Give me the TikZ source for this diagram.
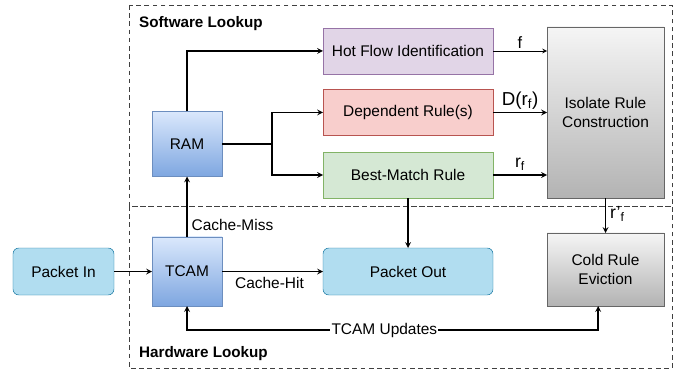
\documentclass[tikz,border=0pt]{standalone}
\usepackage{fontspec}
\setmainfont{Liberation Sans}
\usetikzlibrary{arrows,shapes}
\usetikzlibrary{calc}
\definecolor{memtop}{HTML}{DAE8FC}
\definecolor{membot}{HTML}{7EA6E0}
\definecolor{memline}{HTML}{6C8EBF}
\definecolor{pktfill}{HTML}{B1DDF0}
\definecolor{pktline}{HTML}{10739E}
\definecolor{hotfill}{HTML}{E1D5E7}
\definecolor{hotline}{HTML}{9673A6}
\definecolor{depfill}{HTML}{F8CECC}
\definecolor{depline}{HTML}{B85450}
\definecolor{bmfill}{HTML}{D5E8D4}
\definecolor{bmline}{HTML}{82B366}
\definecolor{ctrltop}{HTML}{F5F5F5}
\definecolor{ctrlbot}{HTML}{B3B3B3}
\definecolor{ctrlline}{HTML}{666666}
\tikzstyle{block}=[draw,rectangle,inner sep=0pt,outer sep=0pt,align=center,font=\fontsize{13.2}{15.5}\selectfont]
\tikzstyle{memory}=[block,draw=memline,top color=memtop,bottom color=membot,minimum width=2.1cm,minimum height=1.95cm]
\tikzstyle{packet}=[block,rounded corners=5pt,fill=pktfill,draw=pktline,minimum height=1.41cm]
\tikzstyle{stage}=[block,minimum width=5.1cm,minimum height=1.38cm]
\tikzstyle{control}=[block,draw=ctrlline,top color=ctrltop,bottom color=ctrlbot,minimum width=3.51cm]
\tikzstyle{edge} = [draw,line width=1.2pt,->]
\tikzstyle{region} = [draw=black!75,dash pattern=on 4pt off 3pt,line width=0.6pt]
\tikzstyle{weight} = [font=\fontsize{13.2}{15.5}\selectfont]
\tikzstyle{title} = [font=\fontsize{13}{15}\selectfont\bfseries,anchor=west]

\begin{document}
\begin{tikzpicture}[x=0.03cm,y=-0.03cm,>=stealth]
    \useasboundingbox (0,0) rectangle (681,372);
    % software and hardware regions
    \path[region] (129,5) rectangle (672,206);
    \path[region] (129,206) rectangle (672,368);
    \node[title] (sw) at (135,24) {Software Lookup};
    \node[title] (hw) at (135,354) {Hardware Lookup};

    % memories
    \node[memory] (RAM) at (187,144) {RAM};
    \node[memory,minimum height=2.07cm] (TCAM) at (187,271.5) {TCAM};

    % packet in/out
    \node[packet,minimum width=3.03cm] (in) at (63.5,271.5) {Packet In};
    \node[packet,minimum width=5.1cm] (out) at (408,271.5) {Packet Out};

    % software stages
    \foreach \pos/\name/\fillc/\linec/\txt in {{(408,51)/hot/hotfill/hotline/Hot Flow Identification},
        {(408,112.5)/dep/depfill/depline/Dependent Rule(s)},
        {(408,175)/bm/bmfill/bmline/Best-Match Rule}}
        \node[stage,fill=\fillc,draw=\linec] (\name) at \pos {\txt};

    % rule construction and eviction
    \node[control,minimum height=5.13cm] (iso) at (605.5,112.5) {Isolate Rule\\Construction};
    \node[control,minimum height=2.19cm] (cold) at (605.5,269.5) {Cold Rule\\Eviction};

    % Connect everything
    \path[edge] (RAM.north) |- (hot.west);
    \path[edge] (RAM.east) -- ++(50,0) |- (dep.west);
    \path[edge] (RAM.east) -- ++(50,0) |- (bm.west);
    \path[edge,line width=0.8pt] (hot.east) -- node[weight,above=-2pt,font=\fontsize{14}{16}\selectfont] {f} (hot.east -| iso.west);
    \path[edge] (dep.east) -- node[weight,above=-1pt,font=\fontsize{16}{18}\selectfont] {D(r\textsubscript{f})} (dep.east -| iso.west);
    \path[edge] (bm.east) -- node[weight,above,font=\fontsize{15}{17}\selectfont] {r\textsubscript{f}} (bm.east -| iso.west);
    \path[edge] (bm.south) -- (bm.south |- out.north);
    \path[edge] (iso.south) -- node[weight,right,yshift=1pt,font=\fontsize{15}{17}\selectfont] {r'\textsubscript{f}} (cold.north);
    \path[edge] (TCAM.north) -- node[weight,right,pos=0.2] {Cache-Miss} (RAM.south);
    \path[edge] (in.east) -- (TCAM.west);
    \path[edge] (TCAM.east) -- node[weight,below=1pt,pos=0.47] {Cache-Hit} (out.west);
    \path[edge,<->] (TCAM.south) -- ++(0,24) -| node[weight,pos=0.24,fill=white,inner sep=1pt] {TCAM Updates} ([xshift=-0.22cm]cold.south);
\end{tikzpicture}
\end{document}
